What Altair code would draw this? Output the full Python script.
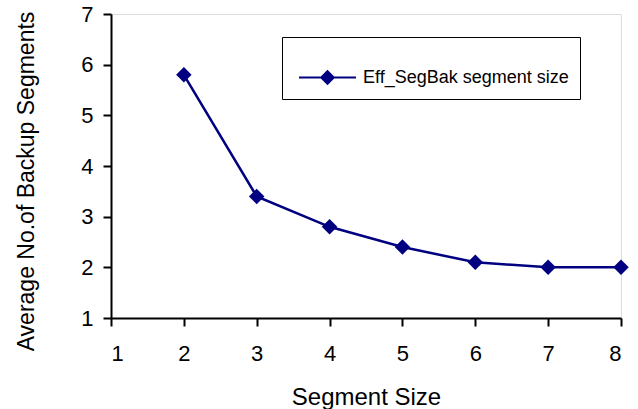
import altair as alt
import pandas as pd

segment_size = [2, 3, 4, 5, 6, 7, 8]
avg_backup = [5.8, 3.4, 2.8, 2.4, 2.1, 2.0, 2.0]
series_name = "Eff_SegBak segment size"
x_ticks = [1, 2, 3, 4, 5, 6, 7, 8]
y_ticks = [1, 2, 3, 4, 5, 6, 7]

df = pd.DataFrame({"x": segment_size, "y": avg_backup, "series": [series_name] * len(segment_size)})

NAVY = "#000080"
FONT = "Liberation Sans"

color = alt.Color(
    "series:N",
    scale=alt.Scale(range=[NAVY]),
    legend=alt.Legend(
        title=None,
        orient="none",
        legendX=171,
        legendY=23,
        padding=11,
        symbolOffset=5,
        labelOffset=6,
        symbolType="M-1,0H1M0,-0.22L0.22,0L0,0.22L-0.22,0Z",
        symbolSize=3249,
        symbolStrokeWidth=2,
        symbolStrokeColor=NAVY,
        symbolFillColor=NAVY,
        labelFont=FONT,
        labelFontSize=18,
        labelColor="black",
        strokeColor="black",
        fillColor="white",
        labelLimit=400,
    ),
)

x_enc = alt.X(
    "x:Q",
    scale=alt.Scale(domain=[1, 8], nice=False, zero=False),
    axis=alt.Axis(
        title="Segment Size",
        values=x_ticks,
        grid=False,
        domainColor="black",
        domainWidth=2,
        tickColor="black",
        tickWidth=2,
        tickSize=8,
        labelPadding=17,
        labelFont=FONT,
        labelFontSize=22,
        labelColor="black",
        titleFont=FONT,
        titleFontSize=24,
        titleFontWeight="normal",
        titleColor="black",
        titleBaseline="alphabetic",
        titleY=86,
    ),
)
y_enc = alt.Y(
    "y:Q",
    scale=alt.Scale(domain=[1, 7], nice=False, zero=False),
    axis=alt.Axis(
        title="Average No.of Backup Segments",
        values=y_ticks,
        grid=False,
        domainColor="black",
        domainWidth=2,
        tickColor="black",
        tickWidth=2,
        tickSize=8,
        labelPadding=10,
        labelFont=FONT,
        labelFontSize=22,
        labelColor="black",
        titleFont=FONT,
        titleFontSize=23,
        titleFontWeight="normal",
        titleColor="black",
        titleBaseline="alphabetic",
        titleX=-78,
        titleY=167,
        titleAlign="center",
    ),
)

base = alt.Chart(df)
line = base.mark_line(color=NAVY, strokeWidth=2.5).encode(x=x_enc, y=y_enc, color=color)
pts = base.mark_point(shape="diamond", filled=True, size=240, opacity=1, color=NAVY).encode(
    x=x_enc, y=y_enc, color=color
)

chart = (
    alt.layer(line, pts)
    .properties(
        width=510,
        height=304,
        autosize=alt.AutoSizeParams(type="none"),
        padding={"left": 111, "top": 14, "right": 17, "bottom": 91},
    )
    .configure_view(stroke="#a0a0a0", strokeWidth=2)
    .configure(background="white")
)

chart.save("out.html", embed_options={"renderer": "svg", "actions": False})
